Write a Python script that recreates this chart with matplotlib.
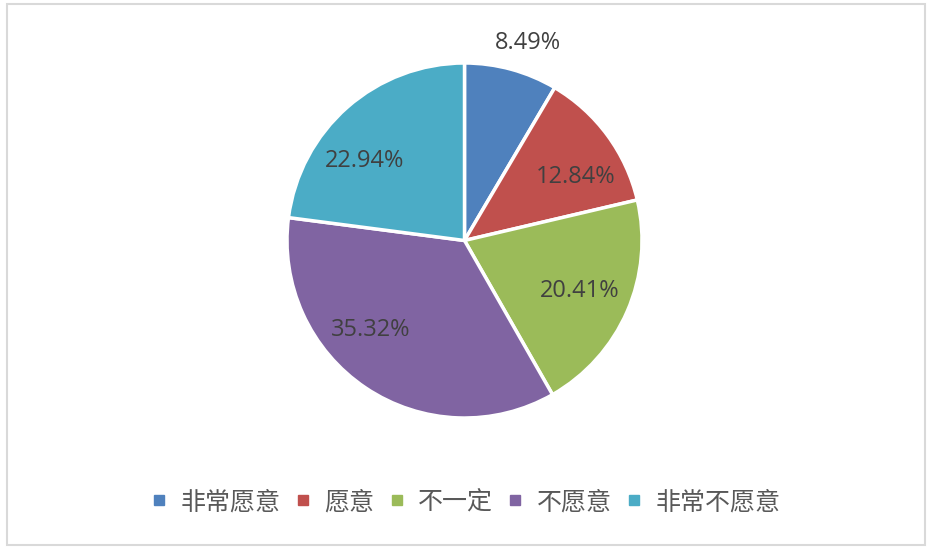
import matplotlib
matplotlib.use("Agg")
import matplotlib.pyplot as plt
from matplotlib.patches import Rectangle
from matplotlib.lines import Line2D
import numpy as np

categories = ["非常愿意", "愿意", "不一定", "不愿意", "非常不愿意"]
values = [8.49, 12.84, 20.41, 35.32, 22.94]
value_labels = ["8.49%", "12.84%", "20.41%", "35.32%", "22.94%"]
colors = ["#4F81BD", "#C0504D", "#9BBB59", "#8064A2", "#4BACC6"]

# label placement (radius fraction, angle degrees) -- layout only
label_pos = [(1.17, 72.3), (0.72, 29.9), (0.71, -23.6), (0.73, -136.6), (0.72, 141.7)]

plt.rcParams['font.family'] = ['Noto Sans CJK SC', 'DejaVu Sans']

W, H = 932, 556
fig = plt.figure(figsize=(W / 100, H / 100), dpi=100)
fig.patch.set_facecolor("white")

cx, cy, r = 464.5, 240.5, 177.5
ax = fig.add_axes([(cx - r) / W, (H - cy - r) / H, 2 * r / W, 2 * r / H])
wedges, _ = ax.pie(values, colors=colors, startangle=90, counterclock=False,
                   radius=1.0,
                   wedgeprops=dict(edgecolor="white", linewidth=2.5))
ax.set_xlim(-1, 1)
ax.set_ylim(-1, 1)
ax.set_aspect("equal")
ax.axis("off")

for txt, (rr, ang) in zip(value_labels, label_pos):
    a = np.deg2rad(ang)
    ax.text(rr * np.cos(a), rr * np.sin(a), txt, ha="center", va="center",
            fontsize=17, color="#404040", family=["Open Sans", "DejaVu Sans"])

handles = [Line2D([0], [0], marker="s", linestyle="none", markersize=7.5,
                  markerfacecolor=c, markeredgecolor=c) for c in colors]
fig.legend(handles, categories, loc="center", bbox_to_anchor=(466 / W, (H - 502) / H),
           ncol=5, frameon=False, fontsize=18, handlelength=0.6, handletextpad=0.55,
           columnspacing=0.6, labelcolor="#595959")

border = Rectangle((6.5 / W, (H - 545) / H), 918 / W, 541 / H, transform=fig.transFigure,
                   fill=False, edgecolor="#D9D9D9", linewidth=1.5)
fig.patches.append(border)

fig.savefig("out.png", dpi=100)
